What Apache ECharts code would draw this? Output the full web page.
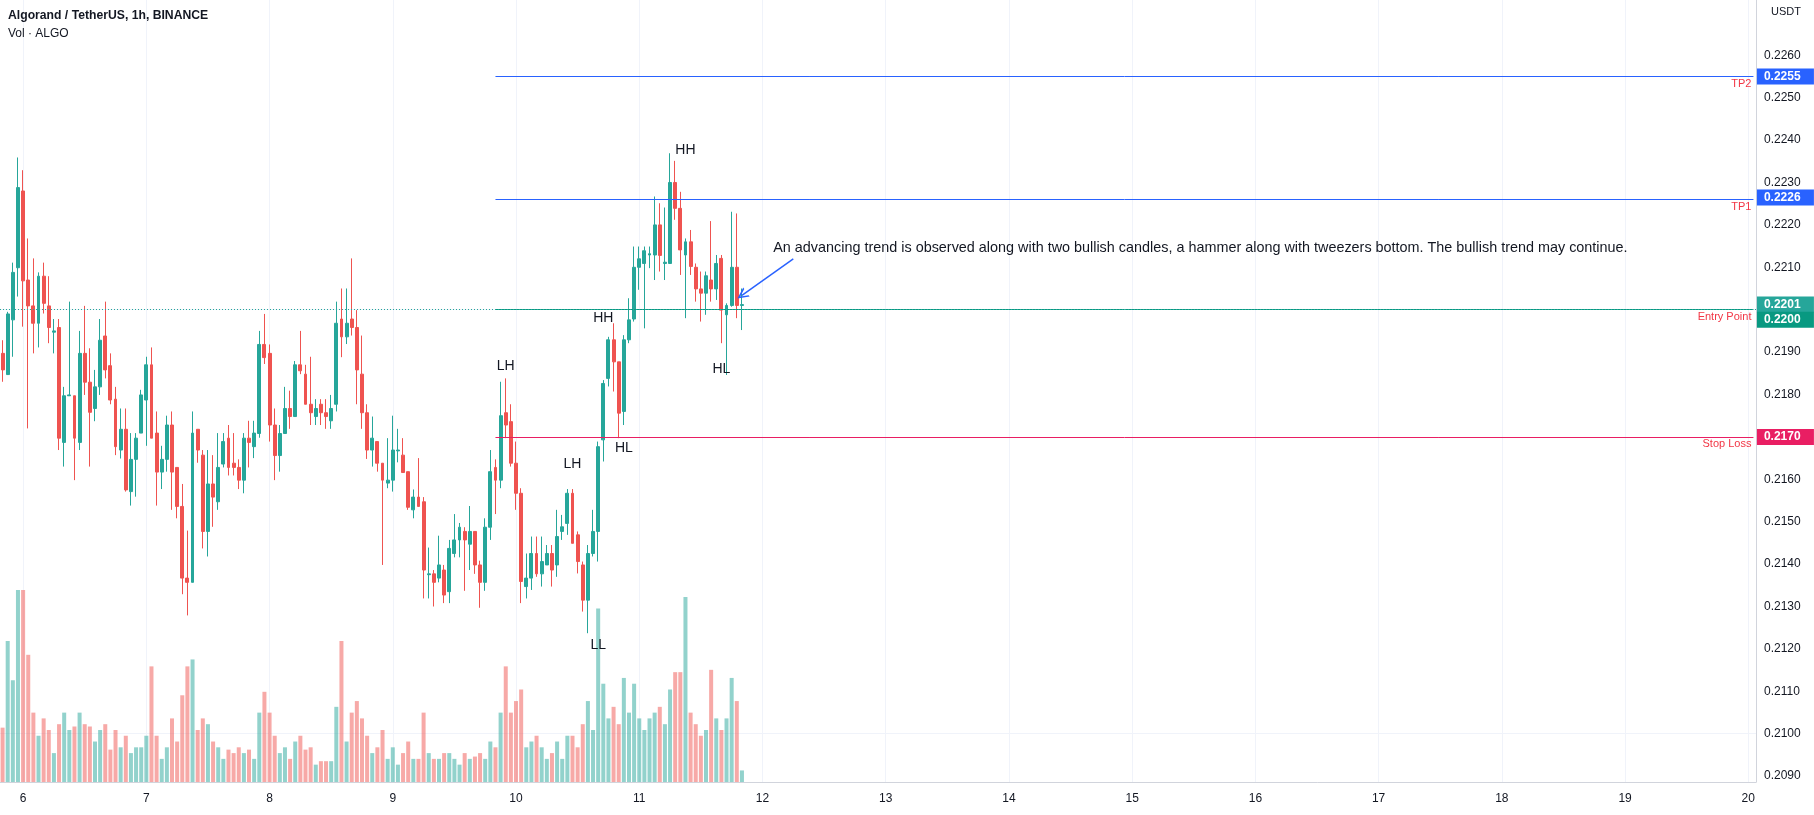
<!DOCTYPE html>
<html><head><meta charset="utf-8">
<script src="https://cdn.jsdelivr.net/npm/echarts@6/dist/echarts.min.js"></script>
<style>html,body{margin:0;padding:0;background:#fff}#c{width:1814px;height:815px}</style>
</head><body><div id="c"></div>
<script>
// ---- data ----
const startDay = 5, startHour = 20, slotCount = 342;
const dayLabels = ['6','7','8','9','10','11','12','13','14','15','16','17','18','19','20'];
const priceTicks = [0.2090,0.2100,0.2110,0.2120,0.2130,0.2140,0.2150,0.2160,0.2170,0.2180,0.2190,0.2200,0.2210,0.2220,0.2230,0.2240,0.2250,0.2260];
const opens = [0.21897,0.21847,0.21976,0.22099,0.22280,0.22070,0.22009,0.21968,0.22079,0.22009,0.21947,0.21958,0.21687,0.21797,0.21797,0.21687,0.21897,0.21829,0.21767,0.21818,0.21938,0.21868,0.21789,0.21669,
0.21718,0.21571,0.21647,0.21709,0.21787,0.21870,0.21709,0.21617,0.21647,0.21728,0.21628,0.21536,0.21367,0.21357,0.21718,0.21657,0.21477,0.21589,0.21547,0.21636,0.21697,0.21638,0.21628,0.21598,0.21697,0.21677,
0.21708,0.21918,0.21897,0.21728,0.21656,0.21708,0.21767,0.21748,0.21870,0.21848,0.21777,0.21748,0.21777,0.21757,0.21738,0.21777,0.21978,0.21936,0.21978,0.21958,0.21848,0.21757,0.21669,0.21689,
0.21638,0.21591,0.21598,0.21667,0.21657,0.21618,0.21528,0.21558,0.21547,0.21375,0.21377,0.21367,0.21386,0.21335,0.21425,0.21457,0.21477,0.21447,0.21477,0.21398,0.21357,0.21487,0.21628,0.21598,
0.21757,0.21736,0.21638,0.21567,0.21347,0.21367,0.21425,0.21377,0.21398,0.21425,0.21398,0.21477,0.21496,0.21567,0.21469,0.21398,0.21315,0.21425,0.21477,0.21693,0.21838,0.21929,0.21877,0.21760,
0.21929,0.21978,0.22100,0.22109,0.22129,0.22129,0.22200,0.22109,0.22109,0.22300,0.22239,0.22129,0.22160,0.22100,0.22049,0.22039,0.22070,0.22049,0.22121,0.21988,0.22010,0.22100,0.22010];
const closes = [0.21858,0.21990,0.22088,0.22288,0.22068,0.22009,0.21968,0.22079,0.22015,0.21958,0.21950,0.21697,0.21797,0.21799,0.21697,0.21897,0.21829,0.21758,0.21818,0.21928,0.21858,0.21787,0.21677,0.21718,
0.21575,0.21647,0.21697,0.21799,0.21870,0.21697,0.21617,0.21647,0.21728,0.21617,0.21536,0.21367,0.21357,0.21709,0.21669,0.21477,0.21589,0.21558,0.21628,0.21689,0.21628,0.21628,0.21598,0.21697,0.21687,0.21709,
0.21918,0.21887,0.21728,0.21656,0.21708,0.21767,0.21748,0.21870,0.21856,0.21777,0.21757,0.21767,0.21757,0.21748,0.21767,0.21968,0.21936,0.21968,0.21958,0.21858,0.21757,0.21669,0.21697,0.21638,
0.21598,0.21598,0.21669,0.21669,0.21616,0.21534,0.21558,0.21536,0.21386,0.21377,0.21357,0.21398,0.21327,0.21437,0.21457,0.21487,0.21457,0.21477,0.21398,0.21357,0.21487,0.21618,0.21598,0.21750,
0.21728,0.21638,0.21567,0.21359,0.21367,0.21425,0.21377,0.21406,0.21425,0.21386,0.21465,0.21488,0.21567,0.21449,0.21406,0.21315,0.21425,0.21477,0.21677,0.21826,0.21929,0.21877,0.21756,0.21929,
0.21976,0.22100,0.22120,0.22139,0.22132,0.22200,0.22128,0.22112,0.22300,0.22239,0.22141,0.22160,0.22102,0.22049,0.22039,0.22080,0.22049,0.22109,0.21999,0.22010,0.22100,0.22010,0.22012];
const highs = [0.21928,0.21995,0.22111,0.22359,0.22329,0.22168,0.22121,0.22088,0.22111,0.22079,0.21978,0.21978,0.21818,0.22019,0.21797,0.21950,0.22009,0.21909,0.21858,0.21978,0.22019,0.21897,0.21818,0.21767,
0.21767,0.21709,0.21709,0.21811,0.21889,0.21911,0.21760,0.21679,0.21750,0.21760,0.21628,0.21589,0.21479,0.21760,0.21718,0.21669,0.21669,0.21657,0.21709,0.21709,0.21728,0.21709,0.21647,0.21709,0.21738,0.21738,
0.21950,0.21990,0.21918,0.21767,0.21728,0.21818,0.21809,0.21879,0.21950,0.21870,0.21889,0.21789,0.21789,0.21789,0.21799,0.22019,0.22050,0.22050,0.22121,0.21999,0.21939,0.21777,0.21748,0.21689,
0.21638,0.21697,0.21750,0.21719,0.21697,0.21618,0.21576,0.21650,0.21558,0.21439,0.21386,0.21467,0.21398,0.21457,0.21518,0.21497,0.21487,0.21537,0.21477,0.21408,0.21508,0.21669,0.21647,0.21830,
0.21838,0.21777,0.21689,0.21579,0.21425,0.21465,0.21465,0.21465,0.21445,0.21445,0.21528,0.21516,0.21577,0.21577,0.21477,0.21406,0.21445,0.21528,0.21689,0.21834,0.21936,0.21968,0.21877,0.21940,
0.22027,0.22149,0.22149,0.22149,0.22149,0.22267,0.22251,0.22241,0.22369,0.22351,0.22278,0.22168,0.22188,0.22109,0.22090,0.22090,0.22209,0.22129,0.22129,0.22015,0.22231,0.22227,0.22050];
const lows = [0.21830,0.21846,0.21889,0.22031,0.21960,0.21720,0.21897,0.21911,0.21991,0.21921,0.21897,0.21669,0.21630,0.21797,0.21598,0.21669,0.21799,0.21630,0.21737,0.21799,0.21838,0.21777,0.21657,0.21649,
0.21571,0.21538,0.21559,0.21709,0.21679,0.21697,0.21538,0.21577,0.21618,0.21528,0.21508,0.21329,0.21279,0.21357,0.21639,0.21437,0.21418,0.21488,0.21528,0.21628,0.21609,0.21609,0.21577,0.21567,0.21628,0.21650,
0.21698,0.21872,0.21689,0.21598,0.21618,0.21708,0.21719,0.21748,0.21848,0.21777,0.21728,0.21728,0.21728,0.21719,0.21719,0.21760,0.21888,0.21919,0.21939,0.21777,0.21719,0.21648,0.21630,0.21618,
0.21398,0.21579,0.21571,0.21640,0.21616,0.21528,0.21508,0.21536,0.21319,0.21319,0.21300,0.21357,0.21308,0.21308,0.21416,0.21416,0.21337,0.21386,0.21377,0.21297,0.21337,0.21457,0.21518,0.21579,
0.21697,0.21630,0.21528,0.21308,0.21319,0.21339,0.21370,0.21347,0.21398,0.21347,0.21370,0.21457,0.21469,0.21449,0.21378,0.21288,0.21237,0.21418,0.21406,0.21642,0.21819,0.21807,0.21697,0.21728,
0.21921,0.21972,0.22047,0.21956,0.22098,0.22070,0.22090,0.22070,0.22109,0.22212,0.22082,0.21980,0.22082,0.22019,0.21972,0.21988,0.22019,0.22023,0.21921,0.21846,0.22007,0.21980,0.21952];
const volumes = [470,1220,880,1660,1660,1100,600,400,550,450,250,500,600,450,480,600,500,480,350,450,500,280,450,300,
400,250,300,300,400,1000,400,200,300,550,350,750,1000,1060,450,550,500,350,300,200,280,250,300,250,280,200,
600,780,600,400,250,300,200,350,400,280,300,150,180,180,180,650,1220,350,600,700,550,400,250,300,
450,200,300,150,250,350,200,200,600,250,200,200,250,250,200,150,250,200,220,250,200,350,300,600,
1000,600,700,800,300,350,400,300,200,250,350,200,400,400,300,500,700,450,1500,850,550,650,500,900,
600,850,550,450,550,600,650,500,800,950,950,1600,600,500,400,450,970,550,450,550,900,700,100];
const levels = [
  {name:'TP2', value:0.2255, color:'#2962ff'},
  {name:'TP1', value:0.2226, color:'#2962ff'},
  {name:'Entry Point', value:0.2200, color:'#089981'},
  {name:'Stop Loss', value:0.2170, color:'#e91e63'}
];
const lastPrice = 0.2201;
const levelStartSlot = 96;
const swingLabels = [
  {text:'HH', slot:133, price:0.22377},
  {text:'HH', slot:117, price:0.21980},
  {text:'LH', slot:98,  price:0.21867},
  {text:'LH', slot:111, price:0.21636},
  {text:'HL', slot:121, price:0.21674},
  {text:'HL', slot:140, price:0.21860},
  {text:'LL', slot:116, price:0.21209}
];
const noteText = 'An advancing trend is observed along with two bullish candles, a hammer along with tweezers bottom. The bullish trend may continue.';
const note = {slot:150, price:0.22146};
const arrow = {fromSlot:154, fromPrice:0.22120, toSlot:144, toPrice:0.22034};
const axisBoxes = [
  {value:0.2255, bg:'#2962ff', off:0},
  {value:0.2226, bg:'#2962ff', off:-2},
  {value:0.2201, bg:'#26a69a', off:-1},
  {value:0.2200, bg:'#089981', off:10},
  {value:0.2170, bg:'#e91e63', off:0}
];

// ---- build ----
const categories = [];
const dayIndex = {};
for (let i = 0; i < slotCount; i++) {
  const hAbs = startHour + i;
  const d = startDay + Math.floor(hAbs / 24), h = hAbs % 24;
  categories.push(d + ' ' + String(h).padStart(2,'0') + ':00');
  if (h === 0) dayIndex[String(d)] = i;
}
const UP = '#26a69a', DOWN = '#ef5350';
const candleData = opens.map((o, i) => [o, closes[i], lows[i], highs[i]]);
const volData = volumes.map((v, i) => ({value: v, itemStyle: {color: closes[i] >= opens[i] ? 'rgba(38,166,154,0.5)' : 'rgba(239,83,80,0.5)'}}));
const lastSlot = slotCount - 1;
const FONT = 'Liberation Sans, Arial, sans-serif';

const gridLines = [];
priceTicks.forEach(v => gridLines.push({yAxis: v}));
dayLabels.forEach(d => { if (dayIndex[d] !== undefined) gridLines.push({xAxis: dayIndex[d]}); });

const levelLines = [];
levels.forEach(l => {
  levelLines.push([
    {coord:[levelStartSlot, l.value], lineStyle:{color:l.color, width:1, type:'solid'},
     label:{show:true, position:'insideEndBottom', formatter:l.name, color:'#f23645', fontSize:11, fontFamily:FONT, distance:[2,2]}},
    {coord:[lastSlot, l.value]}
  ]);
});
levelLines.push({yAxis:lastPrice, lineStyle:{color:'#26a69a', type:[1,2], width:1}, label:{show:false}});
levelLines.push([
  {coord:[arrow.fromSlot, arrow.fromPrice], symbol:'none', lineStyle:{color:'#2962ff', width:1.5, type:'solid'}, label:{show:false}},
  {coord:[arrow.toSlot, arrow.toPrice], symbol:'path://M5,0 L10,10 L8.4,10 L5,3.2 L1.6,10 L0,10 Z', symbolSize:[11,11]}
]);

const boxPts = axisBoxes.map(b => ({coord:[lastSlot, b.value], value:b.value,
  label:{show:true, position:'right', distance:3, formatter:b.value.toFixed(4), backgroundColor:b.bg, color:'#fff',
    fontSize:12, fontFamily:FONT, fontWeight:'bold', padding:[2,5,2,7], width:45, offset:[0,b.off]}}));

const markPts = swingLabels.map(s => ({coord:[s.slot, s.price], value:s.text,
  label:{show:true, formatter:s.text, color:'#131722', fontSize:14, fontFamily:FONT, position:'inside'}}));
markPts.push({coord:[note.slot, note.price], value:noteText,
  label:{show:true, formatter:noteText, color:'#131722', fontSize:14.4, fontFamily:FONT, position:'right', distance:0, align:'left'}});

const chart = echarts.init(document.getElementById('c'), null, {renderer:'canvas'});
chart.setOption({
  animation:false,
  backgroundColor:'#ffffff',
  title:[
    {text:'Algorand / TetherUS, 1h, BINANCE', left:8, top:10, padding:0, textStyle:{fontSize:12.2, fontWeight:600, color:'#131722', fontFamily:FONT}},
    {text:'Vol · ALGO', left:8, top:28, padding:0, textStyle:{fontSize:12, fontWeight:'normal', color:'#131722', fontFamily:FONT}},
    {text:'USDT', left:1771, top:6, padding:0, textStyle:{fontSize:11, fontWeight:'normal', color:'#131722', fontFamily:FONT}}
  ],
  grid:[
    {left:0, right:58, top:0, bottom:33},
    {left:0, right:58, top:560, bottom:33}
  ],
  xAxis:[
    {type:'category', gridIndex:0, data:categories, boundaryGap:true,
     axisLine:{show:true, lineStyle:{color:'#d1d4dc'}}, axisTick:{show:false}, splitLine:{show:false},
     axisLabel:{show:true, interval:(i, v) => v.endsWith(' 00:00'), formatter:v => v.split(' ')[0],
       color:'#131722', fontSize:12, fontFamily:FONT, margin:11}},
    {type:'category', gridIndex:1, data:categories, boundaryGap:true, show:false}
  ],
  yAxis:[
    {type:'value', gridIndex:0, position:'right', min:0.208861, max:0.227304, scale:true,
     axisLine:{show:true, lineStyle:{color:'#d1d4dc'}}, axisTick:{show:false}, splitLine:{show:false},
     axisLabel:{show:true, customValues:priceTicks, formatter:v => v.toFixed(4), color:'#131722', fontSize:12, fontFamily:FONT, margin:8}},
    {type:'value', gridIndex:1, min:0, max:1920, show:false, splitLine:{show:false}}
  ],
  series:[
    {type:'line', xAxisIndex:0, yAxisIndex:0, data:[], silent:true, z:0,
     markLine:{silent:true, symbol:['none','none'], z:0, animation:false, label:{show:false},
       lineStyle:{color:'#f0f3fa', width:1, type:'solid'}, data:gridLines}},
    {type:'bar', xAxisIndex:1, yAxisIndex:1, data:volData, barWidth:'78%', silent:true, z:1},
    {type:'candlestick', xAxisIndex:0, yAxisIndex:0, data:candleData, barWidth:'66%', z:3,
     itemStyle:{color:UP, color0:DOWN, borderColor:UP, borderColor0:DOWN, borderWidth:1},
     markLine:{silent:true, symbol:['none','none'], z:4, animation:false, data:levelLines},
     markPoint:{silent:true, symbol:'circle', symbolSize:1, itemStyle:{color:'rgba(0,0,0,0)'}, animation:false, data:markPts}},
    {type:'line', xAxisIndex:0, yAxisIndex:0, data:[], silent:true, z:6,
     markPoint:{silent:true, symbol:'circle', symbolSize:1, itemStyle:{color:'rgba(0,0,0,0)'}, animation:false, z:6, data:boxPts}}
  ]
});
</script></body></html>
